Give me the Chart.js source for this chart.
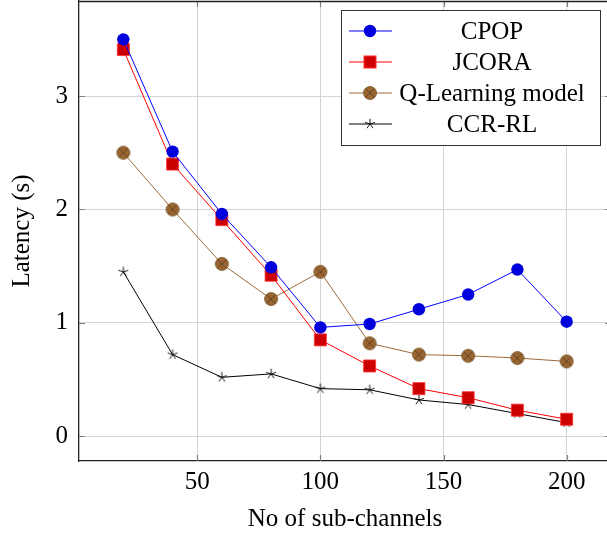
<!DOCTYPE html>
<html>
<head>
<meta charset="utf-8">
<script src="https://cdn.jsdelivr.net/npm/chart.js@4.4.1/dist/chart.umd.min.js"></script>
<style>
  html, body { margin: 0; padding: 0; overflow: hidden; background: #fff; }
  canvas { display: block; }
</style>
</head>
<body>
<canvas id="latency-chart" width="611" height="536"></canvas>
<script>
// Number of sub-channels (x values)
const subChannels = [20, 40, 60, 80, 100, 120, 140, 160, 180, 200];

// Latency in seconds
const cpopLatency = [3.50, 2.51, 1.96, 1.49, 0.96, 0.99, 1.12, 1.25, 1.47, 1.01];
const jcoraLatency = [3.41, 2.40, 1.91, 1.42, 0.85, 0.62, 0.42, 0.34, 0.23, 0.15];
const qLearningLatency = [2.50, 2.00, 1.52, 1.21, 1.45, 0.82, 0.72, 0.71, 0.69, 0.66];
const ccrRlLatency = [1.45, 0.72, 0.52, 0.55, 0.42, 0.41, 0.32, 0.28, 0.20, 0.12];

const seriesNames = ['CPOP', 'JCORA', 'Q-Learning model', 'CCR-RL'];
const xTicks = [50, 100, 150, 200];
const yTicks = [0, 1, 2, 3];

const serif = "'Liberation Serif', 'Times New Roman', serif";

// circle with a cross inside (pgfplots otimes)
function makeOtimes() {
    const c = document.createElement('canvas');
    c.width = 16; c.height = 16;
    const g = c.getContext('2d');
    const r = 6.5;
    g.beginPath();
    g.arc(8, 8, r, 0, Math.PI * 2);
    g.fillStyle = '#996633';
    g.fill();
    g.lineWidth = 0.8;
    g.strokeStyle = '#74501f';
    g.stroke();
    const d = r * Math.SQRT1_2;
    g.beginPath();
    g.moveTo(8 - d, 8 - d); g.lineTo(8 + d, 8 + d);
    g.moveTo(8 + d, 8 - d); g.lineTo(8 - d, 8 + d);
    g.strokeStyle = '#5a3a16';
    g.stroke();
    return c;
}

// five armed star
function makeStar() {
    const c = document.createElement('canvas');
    c.width = 14; c.height = 14;
    const g = c.getContext('2d');
    g.strokeStyle = '#000';
    g.lineWidth = 0.9;
    g.beginPath();
    for (let i = 0; i < 5; i++) {
        const a = -Math.PI / 2 + i * 2 * Math.PI / 5;
        g.moveTo(7, 7);
        g.lineTo(7 + 5.2 * Math.cos(a), 7 + 5.2 * Math.sin(a));
    }
    g.stroke();
    return c;
}

const otimesImg = makeOtimes();
const starImg = makeStar();

function toPoints(values) {
    return values.map((v, i) => ({ x: subChannels[i], y: v }));
}

// tick marks, top border and the legend box
const extrasPlugin = {
    id: 'extras',
    afterDraw(chart) {
        const ctx = chart.ctx;
        const area = chart.chartArea;
        const xs = chart.scales.x;
        const ys = chart.scales.y;
        ctx.save();

        ctx.strokeStyle = '#7f7f7f';
        ctx.lineWidth = 1.2;
        ctx.beginPath();
        xTicks.forEach(t => {
            const px = Math.round(xs.getPixelForValue(t)) + 0.5;
            ctx.moveTo(px, area.bottom); ctx.lineTo(px, area.bottom - 6);
            ctx.moveTo(px, area.top); ctx.lineTo(px, area.top + 6);
        });
        yTicks.forEach(t => {
            const py = Math.round(ys.getPixelForValue(t)) + 0.5;
            ctx.moveTo(area.left, py); ctx.lineTo(area.left + 6, py);
            ctx.moveTo(area.right, py); ctx.lineTo(area.right - 6, py);
        });
        ctx.stroke();

        ctx.strokeStyle = '#222';
        ctx.lineWidth = 1.3;
        ctx.beginPath();
        ctx.moveTo(area.left, area.top + 0.5);
        ctx.lineTo(area.right, area.top + 0.5);
        ctx.moveTo(area.right - 0.5, area.top);
        ctx.lineTo(area.right - 0.5, area.bottom);
        ctx.stroke();

        // legend
        const box = { x: 341.5, y: 10.5, w: 259, h: 135 };
        ctx.fillStyle = '#fff';
        ctx.fillRect(box.x, box.y, box.w, box.h);
        ctx.strokeStyle = '#333';
        ctx.lineWidth = 1;
        ctx.strokeRect(box.x, box.y, box.w, box.h);

        ctx.font = '25px ' + serif;
        ctx.textAlign = 'center';
        ctx.textBaseline = 'middle';
        chart.data.datasets.forEach((ds, i) => {
            const rowY = 31 + i * 31;
            ctx.strokeStyle = ds.borderColor;
            ctx.lineWidth = 1;
            ctx.beginPath();
            ctx.moveTo(349, rowY);
            ctx.lineTo(392, rowY);
            ctx.stroke();
            const ps = ds.pointStyle;
            if (ps instanceof HTMLCanvasElement) {
                ctx.drawImage(ps, 370 - ps.width / 2, rowY - ps.height / 2);
            } else if (ps === 'rect') {
                const s = ds.pointRadius * Math.SQRT1_2;
                ctx.fillStyle = ds.pointBackgroundColor;
                ctx.fillRect(370 - s, rowY - s, 2 * s, 2 * s);
                ctx.strokeStyle = ds.pointBorderColor;
                ctx.strokeRect(370 - s, rowY - s, 2 * s, 2 * s);
            } else {
                ctx.fillStyle = ds.pointBackgroundColor;
                ctx.beginPath();
                ctx.arc(370, rowY, ds.pointRadius, 0, Math.PI * 2);
                ctx.fill();
            }
            ctx.fillStyle = '#000';
            ctx.fillText(ds.label, 492, rowY + 1);
        });
        ctx.restore();
    }
};

const ctx = document.getElementById('latency-chart').getContext('2d');

new Chart(ctx, {
    type: 'line',
    data: {
        datasets: [{
            label: seriesNames[0],
            data: toPoints(cpopLatency),
            borderColor: '#0000ff',
            borderWidth: 1,
            pointStyle: 'circle',
            pointRadius: 6.2,
            pointBackgroundColor: '#0000dd',
            pointBorderColor: '#0000dd',
            pointBorderWidth: 0
        }, {
            label: seriesNames[1],
            data: toPoints(jcoraLatency),
            borderColor: '#ff0000',
            borderWidth: 1,
            pointStyle: 'rect',
            pointRadius: 8.5,
            pointBackgroundColor: '#cc0000',
            pointBorderColor: '#ff3030',
            pointBorderWidth: 0.8
        }, {
            label: seriesNames[2],
            data: toPoints(qLearningLatency),
            borderColor: '#9c6a3a',
            borderWidth: 1,
            pointStyle: otimesImg
        }, {
            label: seriesNames[3],
            data: toPoints(ccrRlLatency),
            borderColor: '#000000',
            borderWidth: 1,
            pointStyle: starImg
        }]
    },
    options: {
        responsive: false,
        animation: false,
        devicePixelRatio: 1,
        layout: { autoPadding: false, padding: { top: 1, right: 0, bottom: 0, left: 0 } },
        plugins: {
            legend: { display: false },
            tooltip: { enabled: false }
        },
        scales: {
            x: {
                type: 'linear',
                min: 2,
                max: 218,
                afterFit: scale => {
                    scale.height = 75;
                    scale.paddingLeft = 0;
                    scale.paddingRight = 0;
                },
                ticks: {
                    stepSize: 50,
                    includeBounds: false,
                    color: '#000',
                    padding: 6,
                    maxRotation: 0,
                    font: { family: serif, size: 25 }
                },
                grid: { color: '#d4d4d4', lineWidth: 1, drawTicks: false },
                border: { display: true, color: '#222', width: 1.3 },
                title: {
                    display: true,
                    text: 'No of sub-channels',
                    color: '#000',
                    font: { family: serif, size: 25, lineHeight: 1.2 },
                    padding: { top: 0, bottom: 2 }
                }
            },
            y: {
                type: 'linear',
                min: -0.218,
                max: 3.838,
                afterFit: scale => {
                    scale.width = 79;
                    scale.paddingTop = 0;
                    scale.paddingBottom = 0;
                },
                ticks: {
                    stepSize: 1,
                    includeBounds: false,
                    color: '#000',
                    padding: 11,
                    font: { family: serif, size: 25 }
                },
                grid: { color: '#d4d4d4', lineWidth: 1, drawTicks: false },
                border: { display: true, color: '#222', width: 1.3 },
                title: {
                    display: true,
                    text: 'Latency (s)',
                    color: '#000',
                    font: { family: serif, size: 25, lineHeight: 1.2 },
                    padding: { top: 7, bottom: 0 }
                }
            }
        }
    },
    plugins: [extrasPlugin]
});
</script>
</body>
</html>
